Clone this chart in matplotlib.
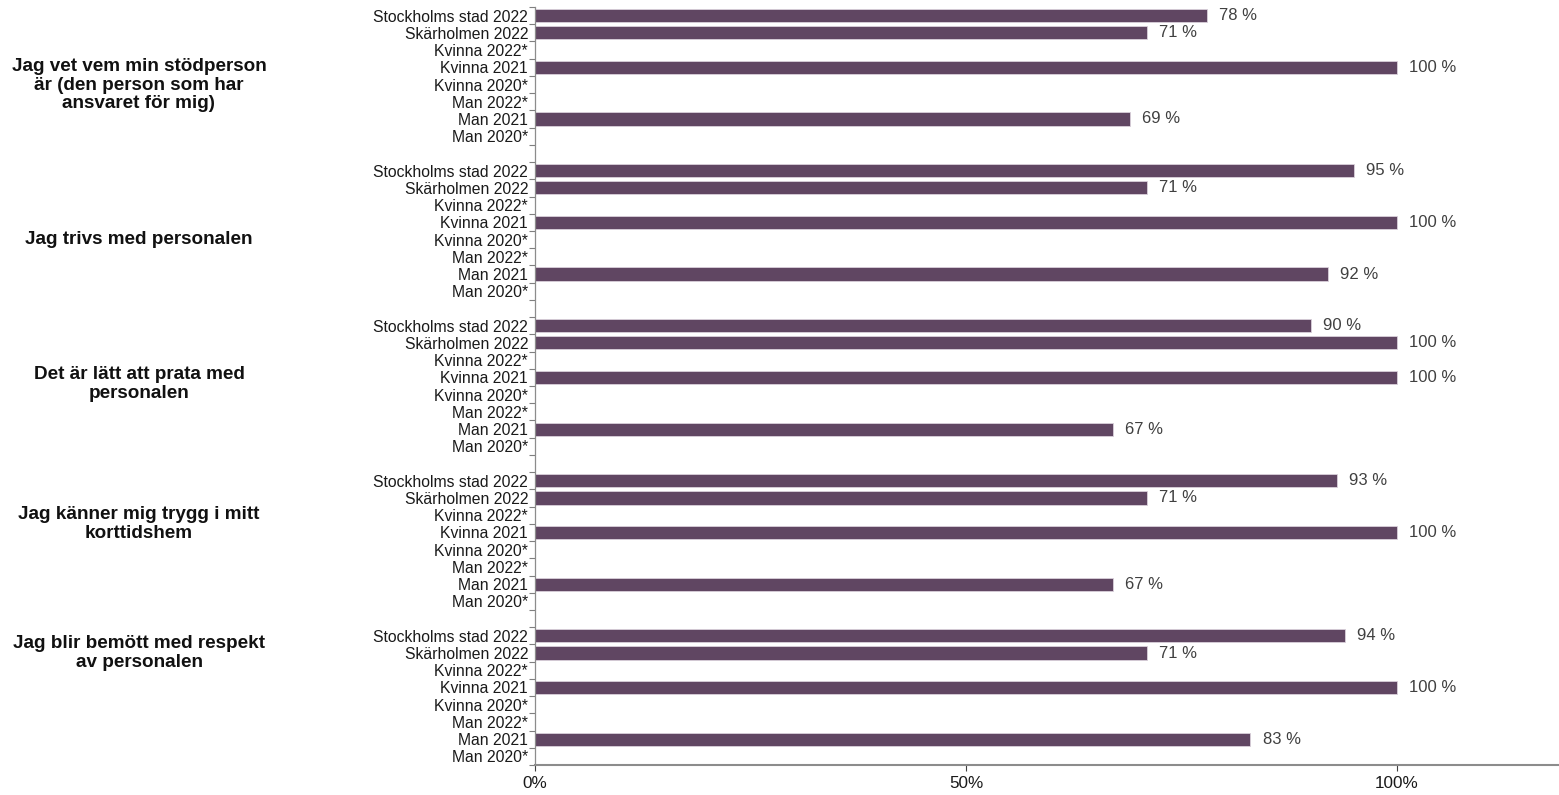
import matplotlib
matplotlib.use("Agg")
import matplotlib.pyplot as plt
import numpy as np

plt.rcParams['font.family'] = ['Liberation Sans', 'DejaVu Sans']

questions = [
    "Jag vet vem min stödperson\när (den person som har\nansvaret för mig)",
    "Jag trivs med personalen",
    "Det är lätt att prata med\npersonalen",
    "Jag känner mig trygg i mitt\nkorttidshem",
    "Jag blir bemött med respekt\nav personalen",
]
row_labels = ["Stockholms stad 2022", "Skärholmen 2022", "Kvinna 2022*", "Kvinna 2021",
              "Kvinna 2020*", "Man 2022*", "Man 2021", "Man 2020*"]
# values per question, in row_labels order (None = no bar)
values = [
    [78, 71, None, 100, None, None, 69, None],
    [95, 71, None, 100, None, None, 92, None],
    [90, 100, None, 100, None, None, 67, None],
    [93, 71, None, 100, None, None, 67, None],
    [94, 71, None, 100, None, None, 83, None],
]
x_ticks = [0, 50, 100]
x_tick_labels = ["0%", "50%", "100%"]
# vertical pixel centre of each question label in the reference
question_label_px = [85, 239, 384, 524, 653]

W, H = 1559, 795
fig = plt.figure(figsize=(W / 100, H / 100), dpi=100)
ax = fig.add_axes([535 / W, 1 - 765 / H, 1 - 535 / W, (765 - 7) / H])

bar_color = "#604662"
labels_all = []
pos = 0
for qi, vals in enumerate(values):
    for lab, v in zip(row_labels, vals):
        labels_all.append(lab)
        if v is not None:
            ax.barh(pos, v, height=0.76, color=bar_color, edgecolor="#d9d0da", linewidth=0.6)
            ax.text(v + 1.4, pos, f"{v} %", va="center", ha="left", fontsize=12, color="#404040")
        pos += 1
    if qi < len(values) - 1:
        labels_all.append("")
        pos += 1

n = len(labels_all)
ax.set_ylim(n - 0.5, -0.5)
ax.set_xlim(0, (W - 535) / (1397 - 535) * 100)

ax.set_yticks(np.arange(n + 1) - 0.5)
ax.set_yticklabels([])
ax.set_yticks(np.arange(n), minor=True)
ax.set_yticklabels(labels_all, minor=True, fontsize=11.3, color="#1a1a1a")
ax.tick_params(axis="y", which="major", length=4, width=0.8, color="#7f7f7f", direction="out")
ax.tick_params(axis="y", which="minor", length=0, pad=5)

ax.set_xticks(x_ticks)
ax.set_xticklabels(x_tick_labels, fontsize=12.3, color="#1a1a1a")
ax.tick_params(axis="x", length=4, width=0.8, color="#404040", pad=4)

for s in ["top", "right"]:
    ax.spines[s].set_visible(False)
ax.spines["left"].set_color("#8c8c8c")
ax.spines["left"].set_linewidth(0.9)
ax.spines["bottom"].set_color("#8c8c8c")
ax.spines["bottom"].set_linewidth(1.5)

for q, py in zip(questions, question_label_px):
    fig.text(139 / W, 1 - py / H, q, ha="center", va="center", fontsize=13.6,
             fontweight="bold", color="#111111", linespacing=1.1)

fig.savefig("out.png", dpi=100)
